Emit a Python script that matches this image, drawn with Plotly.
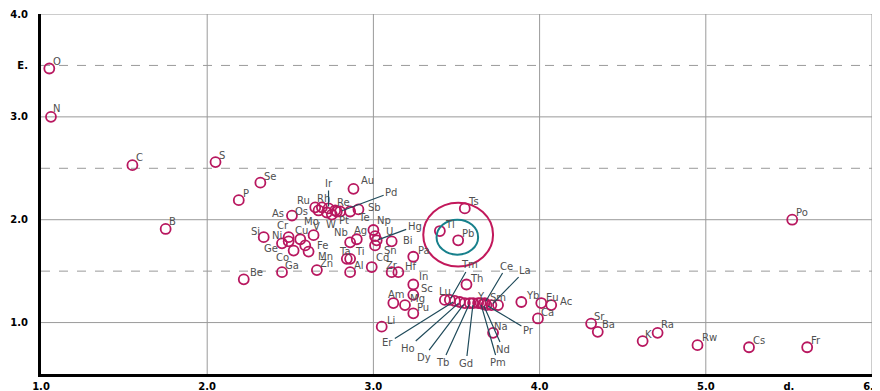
import plotly.graph_objects as go

# ---------------- data ----------------
elements = ["O", "N", "C", "S", "Se", "P", "B", "As", "Au",
            "Ru", "Os", "Rh", "Ir", "Re", "Mo", "W", "Pt", "Pd", "Te", "Sb",
            "Si", "Cr", "Ni", "Ge", "Cu", "V", "Fe", "Co", "Mn", "Ga", "Zn", "Be",
            "Nb", "Ag", "Ta", "Ti", "Al", "Np", "U", "Hg", "Sn", "Bi", "Pa", "Cd",
            "Zr", "Hf", "Tl", "Pb", "Ts", "In", "Sc", "Am", "Mg", "Pu", "Li", "Th",
            "Lu", "Tm", "Er", "Ho", "Dy", "Tb", "Gd", "Y", "Pm", "Nd", "Ce", "Pr",
            "La", "Sm", "Yb", "Eu", "Ac", "Ca", "Na", "Sr", "Ba", "K", "Ra", "Rw",
            "Cs", "Fr", "Po"]
x_vals = [1.05, 1.06, 1.55, 2.05, 2.32, 2.19, 1.75, 2.51, 2.88,
          2.65, 2.67, 2.69, 2.73, 2.77, 2.72, 2.75, 2.78, 2.80, 2.86, 2.91,
          2.34, 2.49, 2.49, 2.45, 2.56, 2.64, 2.59, 2.52, 2.61, 2.45, 2.66, 2.22,
          2.86, 2.90, 2.84, 2.86, 2.86, 3.00, 3.01, 3.02, 3.01, 3.11, 3.24, 2.99,
          3.11, 3.15, 3.40, 3.51, 3.55, 3.24, 3.24, 3.12, 3.19, 3.24, 3.05, 3.56,
          3.43, 3.46, 3.49, 3.52, 3.55, 3.58, 3.60, 3.63, 3.645, 3.66, 3.67, 3.68,
          3.71, 3.75, 3.89, 4.01, 4.07, 3.99, 3.72, 4.31, 4.35, 4.62, 4.71, 4.95,
          5.26, 5.61, 5.52]
y_vals = [3.47, 3.00, 2.53, 2.56, 2.36, 2.19, 1.91, 2.04, 2.30,
          2.12, 2.09, 2.12, 2.11, 2.09, 2.07, 2.05, 2.08, 2.08, 2.08, 2.10,
          1.83, 1.83, 1.79, 1.77, 1.81, 1.85, 1.75, 1.70, 1.69, 1.49, 1.51, 1.42,
          1.78, 1.81, 1.62, 1.62, 1.49, 1.90, 1.84, 1.80, 1.75, 1.79, 1.64, 1.54,
          1.49, 1.49, 1.89, 1.80, 2.11, 1.37, 1.27, 1.19, 1.17, 1.09, 0.96, 1.37,
          1.22, 1.22, 1.21, 1.20, 1.19, 1.19, 1.19, 1.19, 1.19, 1.18, 1.19, 1.17,
          1.17, 1.17, 1.20, 1.19, 1.17, 1.04, 0.90, 0.99, 0.91, 0.82, 0.90, 0.78,
          0.76, 0.76, 2.00]

x_tick_vals = [1, 2, 3, 4, 5, 5.5, 6]
x_tick_text = ["1.0", "2.0", "3.0", "4.0", "5.0", "d.", "6.0"]
y_tick_vals = [1, 2, 3, 3.5, 4]
y_tick_text = ["1.0", "2.0", "3.0", "E.", "4.0"]

solid_x_grid = [2, 3, 4, 5, 6]
solid_y_grid = [1, 2, 3, 4]
dashed_y_grid = [1.5, 2.5, 3.5]

# highlighted region rings: (x0, x1, y0, y1)
outer_ring = (3.30, 3.72, 1.545, 2.165)
inner_ring = (3.38, 3.63, 1.66, 2.00)

# ---------------- label placement (style, pixels) ----------------
# plain labels: (dx right, dy up)
label_offsets = {
    "O": (8, 7), "N": (6, 8), "C": (7, 8), "S": (6, 7), "Se": (10, 6), "P": (7, 7),
    "B": (7, 7), "As": (-14, 2), "Au": (14, 8), "Ru": (-12, 7), "Os": (-17, -1),
    "Rh": (2, 9), "Re": (8, 8), "Mo": (-15, -9), "W": (-1, -10), "Pt": (7, -9),
    "Te": (14, -6), "Sb": (16, 2), "Si": (-8, 6), "Cr": (-6, 12), "Ni": (-12, 6),
    "Ge": (-11, -5), "Cu": (1, 9), "V": (3, 9), "Fe": (17, 0), "Co": (-11, -7),
    "Mn": (17, -5), "Ga": (10, 7), "Zn": (10, 7), "Be": (13, 7), "Nb": (-9, 10),
    "Ag": (4, 9), "Ta": (-2, 7), "Ti": (10, 7), "Al": (9, 7), "Np": (11, 10),
    "U": (14, 5), "Sn": (15, -5), "Bi": (16, 1), "Pa": (11, 6), "Cd": (11, 10),
    "Zr": (0, 7), "Hf": (13, 6), "Tl": (10, 7), "Pb": (10, 7), "Ts": (9, 7),
    "In": (10, 8), "Sc": (14, 6), "Am": (3, 9), "Mg": (13, 7), "Pu": (10, 6),
    "Li": (9, 6), "Th": (10, 6), "Lu": (0, 8), "Y": (3, 7), "Sm": (0, 8),
    "Yb": (11, 7), "Eu": (11, 6), "Ac": (15, 4), "Ca": (10, 6), "Na": (8, 6),
    "Sr": (8, 7), "Ba": (11, 7), "K": (6, 7), "Ra": (10, 8), "Rw": (12, 8),
    "Cs": (10, 7), "Fr": (9, 7), "Po": (10, 7),
}
# labels with leader lines: (ax right, ay down)
leader_offsets = {
    "Ir": (0, -25), "Pd": (51, -19), "Hg": (38, -14), "Tm": (20, -35),
    "Er": (-67, 42), "Ho": (-52, 46), "Dy": (-41, 54), "Tb": (-27, 59),
    "Gd": (-7, 60), "Pm": (17, 59), "Nd": (20, 45), "Ce": (22, -37),
    "Pr": (42, 25), "La": (34, -35),
}

MARK = "#b8175f"
TEXT = "#505050"
LEAD = "#1f4a5a"
GRID = "#9a9a9a"

fig = go.Figure()
fig.add_trace(go.Scatter(
    x=x_vals, y=y_vals, mode="markers", text=elements, hoverinfo="text",
    marker=dict(symbol="circle-open", size=10, color=MARK, line=dict(width=1.8, color=MARK)),
    showlegend=False,
))

shapes = []
for gx in solid_x_grid:
    shapes.append(dict(type="line", xref="x", yref="paper", x0=gx, x1=gx, y0=0, y1=1,
                       line=dict(color=GRID, width=1), layer="below"))
for gy in solid_y_grid:
    shapes.append(dict(type="line", xref="paper", yref="y", x0=0, x1=1, y0=gy, y1=gy,
                       line=dict(color=GRID, width=1), layer="below"))
for gy in dashed_y_grid:
    shapes.append(dict(type="line", xref="paper", yref="y", x0=0, x1=1, y0=gy, y1=gy,
                       line=dict(color=GRID, width=1, dash="dash"), layer="below"))
shapes.append(dict(type="circle", xref="x", yref="y",
                   x0=outer_ring[0], x1=outer_ring[1], y0=outer_ring[2], y1=outer_ring[3],
                   line=dict(color="#c2185b", width=2)))
shapes.append(dict(type="circle", xref="x", yref="y",
                   x0=inner_ring[0], x1=inner_ring[1], y0=inner_ring[2], y1=inner_ring[3],
                   line=dict(color="#17808c", width=2)))

annotations = []
for el, xv, yv in zip(elements, x_vals, y_vals):
    if el in leader_offsets:
        ax, ay = leader_offsets[el]
        annotations.append(dict(x=xv, y=yv, text=el, showarrow=True, arrowhead=0,
                                arrowwidth=1.2, arrowcolor=LEAD, ax=ax, ay=ay,
                                standoff=2, font=dict(size=10, color=TEXT,
                                                      family="DejaVu Sans")))
    elif el in label_offsets:
        dx, dy = label_offsets[el]
        annotations.append(dict(x=xv, y=yv, text=el, showarrow=False,
                                xshift=dx, yshift=dy,
                                font=dict(size=10, color=TEXT, family="DejaVu Sans")))

# page body has an 8px default margin; figure sized to fill the rest of the window
fig.update_layout(
    width=872, height=383,
    margin=dict(l=33, r=8, t=6, b=17),
    paper_bgcolor="white", plot_bgcolor="white",
    shapes=shapes, annotations=annotations,
    xaxis=dict(range=[1, 6], tickvals=x_tick_vals, ticktext=x_tick_text,
               automargin=False, ticklabeloverflow="allow",
               showgrid=False, zeroline=False, showline=True, linecolor="black",
               linewidth=3, ticks="outside", ticklen=1, tickcolor="rgba(0,0,0,0)",
               tickfont=dict(size=10, color="black", family="DejaVu Sans", weight="bold")),
    yaxis=dict(range=[0.5, 4], tickvals=y_tick_vals, ticktext=y_tick_text,
               automargin=False, ticklabeloverflow="allow",
               showgrid=False, zeroline=False, showline=True, linecolor="black",
               linewidth=3, ticks="outside", ticklen=8, tickcolor="rgba(0,0,0,0)",
               tickfont=dict(size=10, color="black", family="DejaVu Sans", weight="bold")),
)

fig.write_html("out.html")
